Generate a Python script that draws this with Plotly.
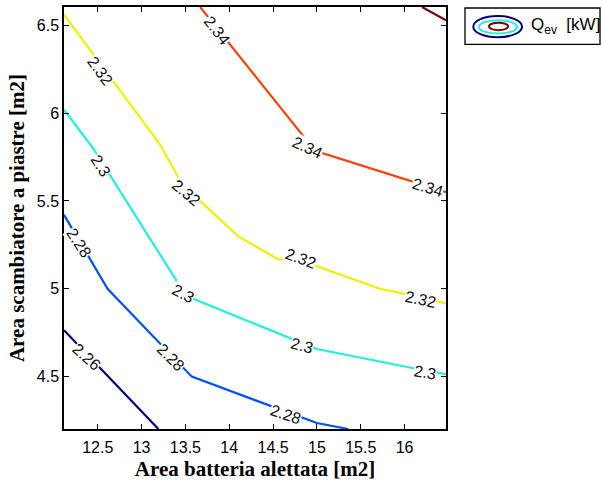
import plotly.graph_objects as go

# ---- data ----
levels = [2.26, 2.28, 2.30, 2.32, 2.34, 2.36]

x_226 = [12.115, 13.192]
y_226 = [4.764, 4.202]

x_228 = [12.115, 12.612, 13.573, 15.000, 15.357]
y_228 = [5.421, 5.000, 4.500, 4.236, 4.202]

x_230 = [12.115, 12.446, 13.420, 13.508, 14.239, 15.000, 16.103, 16.473]
y_230 = [6.019, 5.800, 5.029, 4.960, 4.811, 4.657, 4.548, 4.514]

x_232 = [12.115, 13.211, 13.462, 14.100, 14.550, 14.980, 15.720, 16.020, 16.473]
y_232 = [6.560, 5.821, 5.596, 5.300, 5.170, 5.132, 5.000, 4.970, 4.917]

x_234 = [13.668, 14.980, 16.473]
y_234 = [6.604, 5.785, 5.550]

x_236 = [16.199, 16.473]
y_236 = [6.604, 6.528]

label_level = [2.34, 2.34, 2.34, 2.32, 2.32, 2.32, 2.32, 2.30, 2.30, 2.30, 2.30, 2.28, 2.28, 2.28, 2.26]
label_x = [13.858, 14.893, 16.263, 12.526, 13.508, 14.817, 16.187, 12.534, 13.470, 14.829, 16.233, 12.279, 13.333, 14.646, 12.366]
label_y = [6.468, 5.807, 5.575, 6.245, 5.551, 5.170, 4.941, 5.704, 4.972, 4.679, 4.525, 5.261, 4.608, 4.283, 4.613]

x_ticks = [12.5, 13, 13.5, 14, 14.5, 15, 15.5, 16]
y_ticks = [4.5, 5, 5.5, 6, 6.5]

# ---- styles ----
line_colors = ["#00007F", "#0050FF", "#20F0E0", "#F0F000", "#FF4000", "#800000"]
label_angles = [52, 25, 17, 54, 40, 20, 12, 58, 28, 15, 10, 57, 45, 18, 42]

X_RANGE = [12.115, 16.473]
Y_RANGE = [4.202, 6.604]

series = [(x_226, y_226), (x_228, y_228), (x_230, y_230),
          (x_232, y_232), (x_234, y_234), (x_236, y_236)]

fig = go.Figure()
for (xs, ys), lev, col in zip(series, levels, line_colors):
    fig.add_trace(go.Scatter(x=xs, y=ys, mode="lines",
                             line=dict(color=col, width=2.2),
                             name=str(lev), showlegend=False,
                             hoverinfo="skip"))

for lev, lx, ly, ang in zip(label_level, label_x, label_y, label_angles):
    fig.add_annotation(x=lx, y=ly, xref="x", yref="y",
                       text=f"{lev:g}", showarrow=False,
                       textangle=ang, bgcolor="white", borderpad=0,
                       font=dict(family="Liberation Sans, Arial", size=16, color="#111111"))

# plot area in pixels
L, R, T, B = 64, 446, 5, 429.5
W, H = 602, 482


def px(xp):
    return (xp - L) / (R - L)


def py(yp):
    return (B - yp) / (B - T)


# custom legend (MATLAB style contour icon)
fig.add_shape(type="rect", xref="paper", yref="paper",
              x0=px(465), x1=px(600), y0=py(42.5), y1=py(6),
              line=dict(color="black", width=1.3), fillcolor="white")
for (x0, y0, x1, y1, c) in [(473.3, 14, 522, 35.5, "#00007F"),
                            (479, 18.3, 517, 31.7, "#20F0E0"),
                            (489, 20.8, 508, 28.3, "#800000")]:
    fig.add_shape(type="circle", xref="paper", yref="paper",
                  x0=px(x0), x1=px(x1), y0=py(y1), y1=py(y0),
                  line=dict(color=c, width=2))
fig.add_annotation(xref="paper", yref="paper", x=px(529), y=py(24),
                   xanchor="left", yanchor="middle", showarrow=False,
                   text="Q<sub><span style='font-size:12px'>ev</span></sub>&nbsp; [kW]",
                   font=dict(family="Liberation Sans, Arial", size=17, color="black"))

axis_common = dict(showline=True, linecolor="black", linewidth=1.5, mirror="ticks",
                   ticks="inside", ticklen=5, tickcolor="black", tickwidth=1,
                   showgrid=False, zeroline=False,
                   tickfont=dict(family="Liberation Sans, Arial", size=16, color="black"))

fig.update_xaxes(range=X_RANGE, tickvals=x_ticks, ticktext=[f"{v:g}" for v in x_ticks],
                 ticklabelstandoff=3,
                 title=dict(text="<b>Area batteria alettata [m2]</b>", standoff=6,
                            font=dict(family="Liberation Serif, Times New Roman", size=21, color="black")),
                 **axis_common)
fig.update_yaxes(range=Y_RANGE, tickvals=y_ticks, ticktext=[f"{v:g}" for v in y_ticks],
                 title=dict(text="<b>Area scambiatore a piastre [m2]</b>", standoff=6,
                            font=dict(family="Liberation Serif, Times New Roman", size=21, color="black")),
                 **axis_common)

fig.update_layout(width=W, height=H, margin=dict(l=L, r=W - R, t=T, b=H - B),
                  paper_bgcolor="white", plot_bgcolor="white", showlegend=False)

fig.write_html("out.html", config={"displayModeBar": False},
               post_script="document.body.style.margin='0';document.body.style.padding='0';")
